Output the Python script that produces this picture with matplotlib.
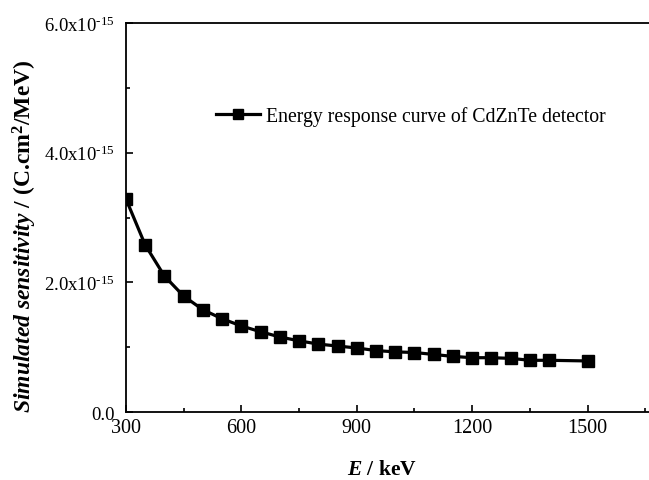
import numpy as np
import matplotlib.pyplot as plt
from matplotlib.ticker import MultipleLocator, FixedLocator

plt.rcParams['font.family'] = ['Liberation Serif', 'DejaVu Serif']
plt.rcParams['mathtext.fontset'] = 'custom'
plt.rcParams['mathtext.rm'] = 'Liberation Serif'
plt.rcParams['mathtext.it'] = 'Liberation Serif:italic'
plt.rcParams['mathtext.bf'] = 'Liberation Serif:bold'
plt.rcParams['mathtext.bfit'] = 'Liberation Serif:italic:bold'

# energy (keV) and simulated sensitivity (x1e-15 C.cm^2/MeV)
energy = [300, 350, 400, 450, 500, 550, 600, 650, 700, 750, 800, 850, 900,
          950, 1000, 1050, 1100, 1150, 1200, 1250, 1300, 1350, 1400, 1500]
sens = [3.29, 2.58, 2.10, 1.79, 1.58, 1.44, 1.33, 1.24, 1.16, 1.10, 1.05,
        1.02, 0.99, 0.95, 0.93, 0.92, 0.89, 0.86, 0.84, 0.84, 0.83, 0.80,
        0.80, 0.79]
yticks = [0.0, 2.0, 4.0, 6.0]
ytick_labels = ['0.0', r'2.0x10$^{\text{-15}}$', r'4.0x10$^{\text{-15}}$',
                r'6.0x10$^{\text{-15}}$']
xticks = [300, 600, 900, 1200, 1500]

fig = plt.figure(figsize=(6.49, 4.81), dpi=100)
ax = fig.add_axes([0.194, 0.141, 0.83, 0.809])

ax.plot(energy, sens, color='black', lw=2.3, marker='s', markersize=8.5,
        label='Energy response curve of CdZnTe detector')

ax.set_xlim(300, 1700)
ax.set_ylim(0, 6)
ax.xaxis.set_major_locator(FixedLocator(xticks))
ax.xaxis.set_minor_locator(MultipleLocator(150))
ax.yaxis.set_major_locator(FixedLocator(yticks))
ax.yaxis.set_minor_locator(MultipleLocator(1))
ax.set_yticklabels(ytick_labels)
ax.tick_params(which='major', direction='in', length=5, width=1.2, pad=4)
ax.tick_params(which='minor', direction='in', length=3, width=1.2)
ax.tick_params(axis='x', which='major', labelsize=14.5)
ax.tick_params(axis='y', which='major', labelsize=13.5, pad=8)
for s in ax.spines.values():
    s.set_linewidth(1.3)

ax.set_xlabel(r'$\mathbfit{E}$ / keV', fontsize=15.5, fontweight='bold',
              va='center')
ax.xaxis.set_label_coords(0.476, -0.147)
ax.set_ylabel(r'$\mathbfit{Simulated\ sensitivity}$ / (C.cm$^\mathbf{2}$/MeV)',
              fontsize=17, fontweight='bold', va='center')
ax.yaxis.set_label_coords(-0.188, 0.455)

ax.legend(loc='upper left', bbox_to_anchor=(0.135, 0.832), frameon=False,
          fontsize=14.2, handlelength=2.2, handletextpad=0.3, markerscale=0.8)

plt.savefig('out.png', dpi=100)
